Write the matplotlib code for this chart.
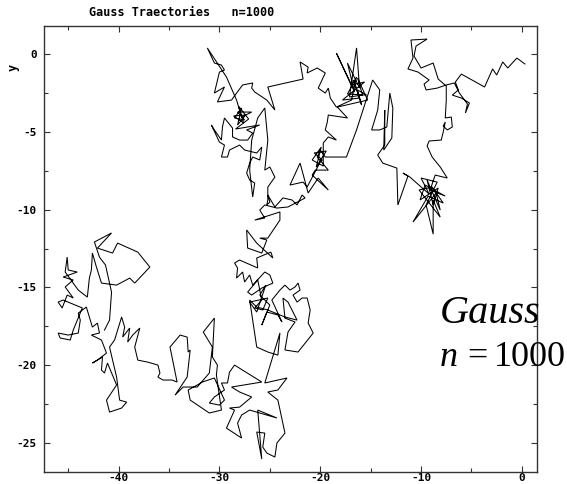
import matplotlib
matplotlib.use("Agg")
import matplotlib.pyplot as plt
from matplotlib.ticker import MultipleLocator

title_text = "Gauss Traectories   n=1000"
x_ticks = [-40, -30, -20, -10, 0]
y_ticks = [0, -5, -10, -15, -20, -25]

# Gaussian random-walk trajectory (x, y positions of the walker)
walk_x = [
    0.3, -0.5, -1.4, -1.9, -2.5, -2.9, -3.7, -6.0, -6.6, -6.3, -6.9, -6.0, -5.2, -5.6, -5.4, -6.2,
    -6.7, -7.5, -8.4, -9.5, -9.7, -9.2, -10.3, -11.3, -10.8, -11.0, -9.4, -10.5, -10.7, -10.0, -8.8,
    -8.3, -7.5, -7.5, -7.6, -7.0, -6.9, -7.4, -7.8, -7.6, -7.8, -8.0, -9.2, -9.4, -8.9, -8.1, -7.4,
    -8.6, -9.1, -7.6, -9.6, -10.1, -8.3, -8.8, -9.4, -8.1, -8.5, -10.8, -9.3, -7.8, -8.9, -10.2, -8.1,
    -8.8, -8.8, -9.5, -8.4, -10.0, -9.2, -11.1, -11.8, -11.3, -12.3, -12.4, -13.8, -14.3, -13.6, -13.6,
    -13.7, -12.9, -12.8, -13.1, -13.4, -14.1, -14.9, -14.3, -14.1, -14.8,
    -16.4, -17.4, -19.5, -20.0, -20.3, -19.2, -20.5, -20.8, -19.2, -20.2, -21.2, -22.0, -23.0, -21.7,
    -21.3, -20.0, -19.8, -20.6, -19.4, -20.4, -19.9, -20.8, -19.7,
    -19.7, -19.2, -18.4, -19.5, -19.3, -19.2, -17.3, -18.3,
    -15.3, -16.3, -15.8, -17.1, -16.4, -16.1, -17.3, -16.6, -18.4, -16.9, -15.6, -17.8, -16.1, -16.7,
    -15.9, -16.3, -15.4, -17.3, -16.4, -16.9, -18.4, -19.0, -19.2, -19.5, -20.2, -19.5, -20.3, -21.3,
    -21.2, -22.0, -21.7, -25.2,
    -24.8, -24.5, -25.3, -26.5, -26.8, -26.7, -27.7, -28.3, -28.8, -30.2, -29.5, -30.5, -30.0, -29.5,
    -29.8, -30.5, -31.2, -29.3, -28.3, -28.0, -27.8, -26.8, -28.2, -27.5, -28.5, -27.8, -28.2, -27.4,
    -28.6, -27.6, -28.1, -27.1, -28.4,
    -26.0, -27.3, -26.7, -27.2, -28.0, -28.7, -28.7, -29.5, -29.7, -29.8, -30.5, -30.8, -30.0, -29.5,
    -29.8, -29.2, -29.0, -28.0, -27.5, -26.3, -25.8, -26.0, -26.7, -27.0, -27.3, -27.0, -26.5, -26.7,
    -27.0, -26.8, -26.2, -25.5, -25.2, -25.5, -25.0, -24.5, -25.2, -25.2, -25.3,
    -25.0, -25.2, -24.5, -23.7, -22.8, -22.3, -21.8, -21.5, -23.2, -24.3, -25.5, -26.0, -25.5, -26.5,
    -24.0, -24.0, -25.2, -26.0, -25.3, -25.8, -27.2, -27.3, -26.3, -24.7, -24.9, -26.3, -26.2, -28.0,
    -28.5, -28.2, -28.3, -27.7, -27.5, -27.0, -26.7, -25.5, -25.0, -24.7, -25.8, -26.8, -27.2, -26.2,
    -25.8, -26.5, -25.7, -25.2, -27.0, -26.3, -25.4, -26.0, -25.0, -25.8, -25.3, -24.2, -23.8, -24.8,
    -24.0, -23.5, -23.0, -22.5, -22.2, -22.0, -22.7, -22.3, -21.8, -21.3, -21.0, -21.2, -20.7, -22.2,
    -23.5, -23.2, -22.5, -23.5, -23.7, -23.2, -22.3, -23.5, -25.2, -26.3, -27.0,
    -26.3, -25.2, -24.2, -24.0, -25.5,
    -23.3, -24.2, -25.2, -24.2, -23.5, -24.3, -24.5, -25.3, -25.7, -25.5, -26.3, -25.8, -26.2, -24.3,
    -27.0, -27.8, -28.2, -27.8, -29.3, -28.5, -29.0, -28.0, -26.8, -28.0, -28.8, -25.8, -28.5, -29.0,
    -29.2, -29.8, -29.5, -30.5, -31.0, -30.0, -29.5, -30.5, -31.7, -32.2, -33.1, -32.9, -31.0, -29.8,
    -30.3, -30.2, -30.7, -30.5, -31.6, -30.7, -31.0, -32.2, -33.6, -34.4, -33.2, -32.9, -33.1, -33.2,
    -33.9, -34.9, -34.2, -34.7, -35.6, -36.1, -35.9, -36.1, -37.1, -38.1, -38.4, -37.9, -38.6, -39.1,
    -38.9, -39.6, -39.4, -39.7,
    -40.4, -40.9, -40.6, -40.2, -39.9, -39.2, -39.7, -40.9, -41.2, -40.2, -41.1, -41.4, -41.7, -41.6,
    -42.6, -42.1, -41.2, -41.7, -42.7, -41.9, -42.1, -42.6, -43.2, -44.0, -43.8, -44.0, -45.0, -46.0,
    -45.8, -44.8, -44.5, -43.6, -45.5, -46.0, -45.6, -45.1, -44.5, -45.3, -44.5, -45.5, -44.1, -45.0,
    -45.1, -45.3, -44.0, -43.1, -42.9, -42.7, -42.6, -42.2, -41.7, -40.2, -38.9, -38.4, -36.9, -38.1,
    -40.1, -40.6, -42.1, -40.7, -42.4, -41.9, -41.3, -40.7, -40.9, -41.4,
]
walk_y = [
    -0.64, -0.26, -0.90, -0.51, -1.35, -0.96, -2.12, -1.29, -1.80, -2.31, -2.64, -2.83, -3.15, -3.79, -3.21, -2.51,
    -1.86, -1.99, -2.19, -2.31, -1.93, -1.67, -1.16, -0.96, -0.26, 0.90, 0.96, 0.51, -0.13, -0.90, -0.58,
    -1.61, -2.06, -2.96, -4.11, -4.05, -4.69, -4.88, -4.63, -4.37, -5.01, -5.53, -5.59, -5.91, -6.62, -7.26, -7.97,
    -7.78, -8.74, -9.13, -8.42, -9.38, -8.61, -9.70, -8.10, -10.03, -8.93, -10.80, -9.13, -9.58, -8.55, -8.74, -10.48,
    -9.38, -11.57, -9.70, -8.23, -7.97, -9.00, -7.91, -7.65, -7.84, -9.70, -7.33, -7.01, -6.49, -5.85, -3.60,
    -6.17, -5.40, -3.47, -2.51, -4.69, -4.88, -4.88, -3.60, -2.31, -1.67,
    -4.88, -6.62, -6.62, -6.17, -6.62, -7.46, -7.46, -7.78, -8.74, -7.97, -8.93, -7.01, -8.42, -8.23,
    -8.55, -6.94, -6.81, -6.36, -6.23, -7.27, -5.98, -6.81, -7.20,
    -5.72, -5.33, -5.53, -4.88, -4.37, -3.92, -4.11, -3.41,
    -2.96, -1.54, -2.64, -2.76, 0.39, -2.19, -0.58, -2.44, 0.06, -1.99, -1.80, -2.96, -2.83, -1.67,
    -3.28, -2.31, -2.64, -2.57, -1.48, -2.96, -3.41, -2.83, -2.19, -2.51, -2.19, -1.22, -0.90, -1.22,
    -0.84, -0.51, -1.61, -2.12,
    -2.96, -3.60, -2.96, -2.44, -2.19, -1.86, -1.99, -2.51, -2.96, -3.08, -2.12, -2.51, -1.16, -1.03,
    -0.71, -0.58, 0.39, -1.48, -2.96, -3.60, -4.05, -3.73, -3.73, -4.24, -4.11, -3.47, -4.56, -3.92,
    -3.98, -4.43, -3.35, -4.18, -4.82,
    -4.56, -4.88, -5.08, -5.53, -5.53, -5.33, -4.76, -4.11, -4.69, -5.53, -4.88, -4.56, -5.66, -5.85,
    -6.62, -6.62, -6.17, -5.85, -6.17, -6.36, -5.98, -6.81, -6.62, -7.01, -7.65, -8.10, -8.29, -9.19,
    -7.46, -5.53, -4.11, -3.47, -5.53, -7.46, -7.26, -7.91, -8.55, -9.38, -9.70,
    -9.51, -9.06, -9.83, -9.25, -9.38, -9.70, -9.06, -9.25, -9.83, -9.90, -9.70, -10.03, -10.54, -10.67,
    -10.15, -10.67, -11.83, -11.83, -11.95, -12.79, -12.47, -11.31, -12.15, -13.11, -12.73, -13.11, -13.75, -13.24,
    -13.43, -13.75, -14.40, -14.01, -14.65, -14.20, -14.85, -14.01, -14.20, -14.72, -15.04, -15.49, -15.30, -14.52,
    -15.81, -16.32, -16.45, -15.68, -15.94, -16.58, -14.85, -15.49, -16.13, -17.42, -16.58, -16.77, -17.22, -15.81,
    -15.17, -14.85, -15.17, -14.97, -14.72, -15.17, -15.49, -15.94, -15.68, -15.68, -16.45, -17.29, -17.93, -19.15,
    -19.02, -17.87, -17.22, -16.97, -15.68, -15.94, -17.10, -16.90, -16.45, -16.26, -15.81,
    -18.83, -19.15, -19.35, -17.93, -21.14,
    -20.82, -21.59, -21.72, -22.24, -24.36, -25.00, -25.90, -25.64, -25.26, -24.36, -24.29, -26.03, -22.88, -23.39,
    -22.88, -23.20, -23.72, -24.68, -24.04, -22.88, -22.75, -22.69, -22.04, -21.72, -21.40, -21.08, -19.99, -20.44,
    -21.14, -21.14, -21.59, -22.04, -22.43, -22.56, -22.24, -20.82, -21.08, -21.27, -21.59, -22.24, -23.07, -22.88,
    -20.63, -19.99, -19.47, -16.97, -17.87, -18.83, -20.50, -21.40, -21.40, -21.92, -20.76, -19.02, -19.15, -18.19,
    -18.06, -18.83, -21.08, -20.95, -20.95, -20.76, -20.50, -19.99, -19.80, -19.67, -18.83, -17.61, -18.06, -18.51,
    -17.61, -18.19, -17.55, -16.90,
    -18.38, -18.83, -19.67, -20.76, -22.24, -22.37, -22.75, -23.01, -22.24, -21.27, -19.86, -20.50, -20.31, -19.47,
    -19.86, -19.67, -19.22, -18.38, -18.06, -17.93, -17.29, -17.55, -16.26, -16.65, -17.10, -17.93, -18.06, -17.93,
    -18.25, -18.38, -17.74, -16.32, -15.81, -15.94, -16.32, -15.49, -15.68, -14.97, -14.52, -14.33, -14.01, -13.88,
    -13.05, -14.01, -15.17, -15.62, -14.40, -13.88, -12.79, -13.69, -14.72, -14.85, -14.40, -14.72, -13.69, -12.73,
    -12.15, -12.79, -12.47, -11.50, -12.08, -13.05, -13.56, -15.30, -17.10, -17.74,
]

plt.rcParams["axes.unicode_minus"] = False
plt.rcParams["font.family"] = ["DejaVu Sans Mono", "DejaVu Sans"]
plt.rcParams["font.weight"] = "bold"

fig = plt.figure(figsize=(5.67, 4.84), dpi=100)
ax = fig.add_axes([44 / 567, 12 / 484, 493 / 567, 446 / 484])

ax.plot(walk_x, walk_y, color="black", linewidth=0.75, solid_joinstyle="miter")

ax.set_xlim(-47.4, 1.5)
ax.set_ylim(-26.86, 1.8)
ax.set_xticks(x_ticks)
ax.set_yticks(y_ticks)
ax.set_xticklabels([str(v) for v in x_ticks])
ax.set_yticklabels([str(v) for v in y_ticks])
ax.xaxis.set_minor_locator(MultipleLocator(5))
ax.yaxis.set_minor_locator(MultipleLocator(2.5))
ax.tick_params(which="both", direction="in", top=True, right=True,
               labelsize=8, width=0.8, color="#333333")
ax.tick_params(which="major", length=4)
ax.tick_params(which="minor", length=3)
ax.tick_params(axis="x", pad=1)
ax.tick_params(axis="y", pad=5)
for sp in ax.spines.values():
    sp.set_linewidth(1.0)
    sp.set_color("#333333")

fig.text(182 / 567, 1 - 13 / 484, title_text, ha="center", va="center",
         fontsize=8.5, fontweight="bold")
fig.text(13 / 567, 1 - 67 / 484, "y", ha="center", va="center",
         rotation=90, fontsize=8.5, fontweight="bold")

# Large italic annotation on the right side
serif = "Liberation Serif"
fig.text(440 / 567, 1 - 323 / 484, "Gauss", fontsize=29, family=serif,
         style="italic", fontweight="normal", va="baseline", ha="left")
fig.text(440 / 567, 1 - 366 / 484, "n", fontsize=26, family=serif,
         style="italic", fontweight="normal", va="baseline", ha="left")
fig.text(467 / 567, 1 - 366 / 484, "=", fontsize=26, family=serif,
         fontweight="normal", va="baseline", ha="left")
fig.text(494 / 567, 1 - 366 / 484, "1000", fontsize=26, family=serif,
         fontweight="normal", va="baseline", ha="left")

fig.savefig("out.png", dpi=100)
